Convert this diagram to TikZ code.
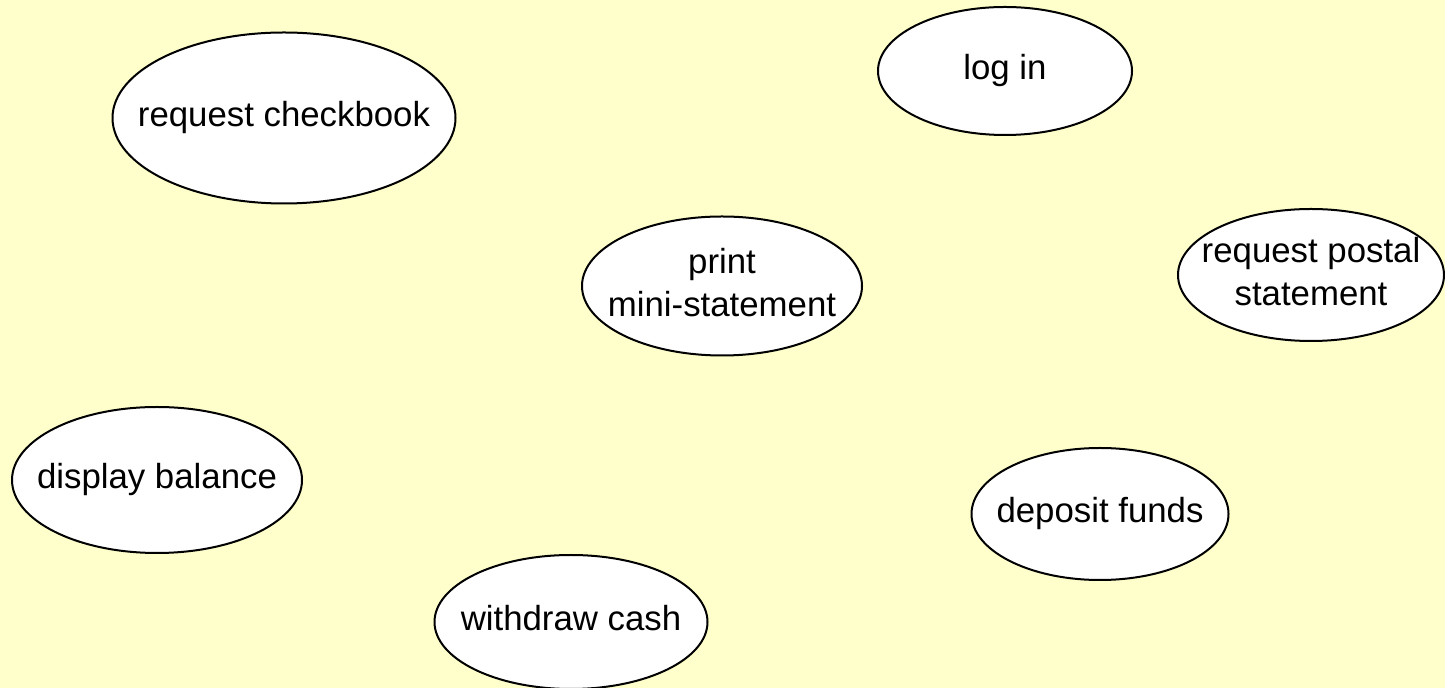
\documentclass[tikz,border=0pt]{standalone}
\usepackage{fontspec}
\setmainfont{Liberation Sans}
\usetikzlibrary{shapes.geometric}
\definecolor{paper}{RGB}{255,255,204}
\newcommand{\uctext}[1]{\makebox[0pt]{\begin{tabular}{@{}c@{}}#1\end{tabular}}}

\begin{document}
\begin{tikzpicture}[
    x=0.5pt, y=-0.5pt,
    usecase/.style 2 args={ellipse, draw, line width=1pt, fill=white, inner sep=0pt,
        minimum width=#1, minimum height=#2},
    font=\fontsize{17.4}{21.5}\selectfont
]
% Background
\fill[paper] (0,0) rectangle (1445,688);
\useasboundingbox (0,0) rectangle (1445,688);
% Use cases
\node[usecase={171.5pt}{85.5pt}] (checkbook) at (284,118) {\uctext{request checkbook}};
\node[usecase={127pt}{64pt}] (login) at (1005,71) {\uctext{log in}};
\node[usecase={140pt}{69.5pt}] (ministatement) at (722,286) {\uctext{print\\mini-statement}};
\node[usecase={133pt}{66pt}] (postal) at (1311,275) {\uctext{request postal\\statement}};
\node[usecase={145pt}{73pt}] (balance) at (157,480) {\uctext{display balance}};
\node[usecase={128.5pt}{66pt}] (deposit) at (1100,514) {\uctext{deposit funds}};
\node[usecase={136.5pt}{67pt}] (withdraw) at (571,622) {\uctext{withdraw cash}};
\end{tikzpicture}
\end{document}
